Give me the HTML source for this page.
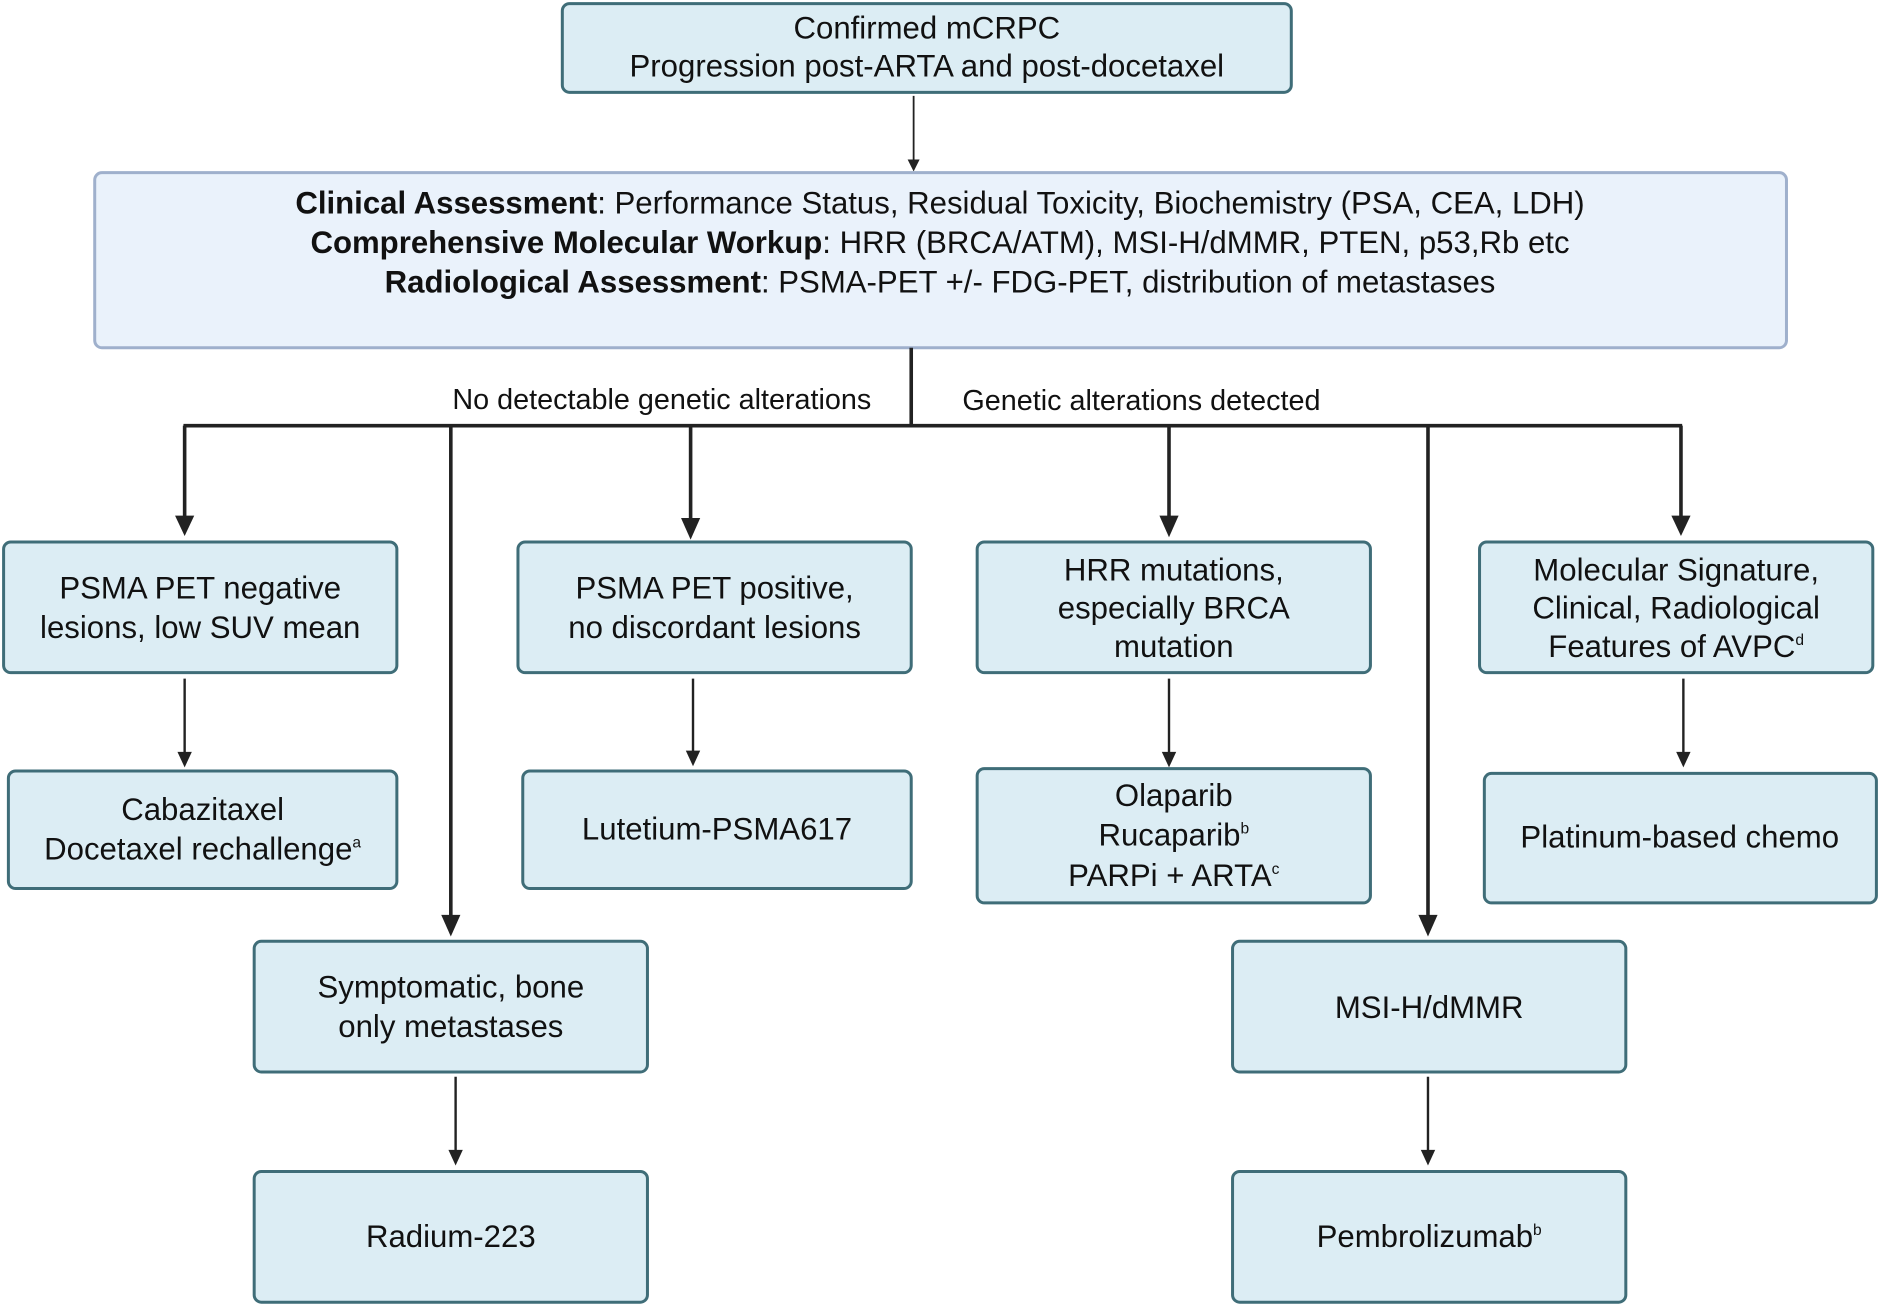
<!DOCTYPE html>
<html><head><meta charset="utf-8"><style>
html,body{margin:0;padding:0;background:#fff;}
svg{display:block;}
text{font-family:"Liberation Sans",sans-serif;fill:#111;text-anchor:middle;}
.n{font-size:26px;}
.b{font-weight:bold;}
.box{fill:#dcedf4;stroke:#3f6d78;stroke-width:2.5;}
.ln{stroke:#222;stroke-width:3;fill:none;}
.th{stroke:#222;stroke-width:2;fill:none;}
.ah{fill:#222;}
</style></head><body>
<svg width="1880" height="1307" viewBox="0 0 1568 1090" preserveAspectRatio="none" xmlns="http://www.w3.org/2000/svg">

<rect class="box" x="469" y="3" width="608" height="74" rx="6"/>
<text class="n" x="773" y="32">Confirmed mCRPC</text>
<text class="n" x="773" y="64">Progression post-ARTA and post-docetaxel</text>

<line x1="762" y1="80" x2="762" y2="134" stroke="#222" stroke-width="1.5"/>
<path class="ah" d="M757,133 L767,133 L762,143 Z"/>

<rect x="79" y="144" width="1411" height="146" rx="6" fill="#eaf2fb" stroke="#9fb0cc" stroke-width="2.5"/>
<text class="n" x="784" y="178"><tspan class="b">Clinical Assessment</tspan>: Performance Status, Residual Toxicity, Biochemistry (PSA, CEA, LDH)</text>
<text class="n" x="784" y="211"><tspan class="b">Comprehensive Molecular Workup</tspan>: HRR (BRCA/ATM), MSI-H/dMMR, PTEN, p53,Rb etc</text>
<text class="n" x="784" y="244"><tspan class="b">Radiological Assessment</tspan>: PSMA-PET +/- FDG-PET, distribution of metastases</text>

<line class="ln" x1="760" y1="290" x2="760" y2="355"/>
<text class="n" x="552" y="341" style="font-size:24px">No detectable genetic alterations</text>
<text class="n" x="952" y="342" style="font-size:24px">Genetic alterations detected</text>
<line class="ln" x1="153" y1="355" x2="1403" y2="355"/>
<line class="ln" x1="154" y1="355" x2="154" y2="432"/><path class="ah" d="M146,430 L162,430 L154,447 Z"/>
<line class="ln" x1="376" y1="355" x2="376" y2="765"/><path class="ah" d="M368,763 L384,763 L376,781 Z"/>
<line class="ln" x1="576" y1="355" x2="576" y2="434"/><path class="ah" d="M568,432 L584,432 L576,450 Z"/>
<line class="ln" x1="975" y1="355" x2="975" y2="432"/><path class="ah" d="M967,430 L983,430 L975,448 Z"/>
<line class="ln" x1="1191" y1="355" x2="1191" y2="765"/><path class="ah" d="M1183,763 L1199,763 L1191,781 Z"/>
<line class="ln" x1="1402" y1="355" x2="1402" y2="432"/><path class="ah" d="M1394,430 L1410,430 L1402,447 Z"/>

<rect class="box" x="3" y="452" width="328" height="109" rx="6"/>
<text class="n" x="167" y="499">PSMA PET negative</text>
<text class="n" x="167" y="532">lesions, low SUV mean</text>
<rect class="box" x="432" y="452" width="328" height="109" rx="6"/>
<text class="n" x="596" y="499">PSMA PET positive,</text>
<text class="n" x="596" y="532">no discordant lesions</text>
<rect class="box" x="815" y="452" width="328" height="109" rx="6"/>
<text class="n" x="979" y="484">HRR mutations,</text>
<text class="n" x="979" y="516">especially BRCA</text>
<text class="n" x="979" y="548">mutation</text>
<rect class="box" x="1234" y="452" width="328" height="109" rx="6"/>
<text class="n" x="1398" y="484">Molecular Signature,</text>
<text class="n" x="1398" y="516">Clinical, Radiological</text>
<text class="n" x="1398" y="548">Features of AVPC<tspan dy="-10" style="font-size:13px">d</tspan></text>

<line class="th" x1="154" y1="566" x2="154" y2="628"/><path class="ah" d="M148,627 L160,627 L154,640 Z"/>
<line class="th" x1="578" y1="566" x2="578" y2="627"/><path class="ah" d="M572,626 L584,626 L578,639 Z"/>
<line class="th" x1="975" y1="566" x2="975" y2="628"/><path class="ah" d="M969,627 L981,627 L975,640 Z"/>
<line class="th" x1="1404" y1="566" x2="1404" y2="628"/><path class="ah" d="M1398,627 L1410,627 L1404,640 Z"/>

<rect class="box" x="7" y="643" width="324" height="98" rx="6"/>
<text class="n" x="169" y="684">Cabazitaxel</text>
<text class="n" x="169" y="717">Docetaxel rechallenge<tspan dy="-10" style="font-size:13px">a</tspan></text>
<rect class="box" x="436" y="643" width="324" height="98" rx="6"/>
<text class="n" x="598" y="700">Lutetium-PSMA617</text>
<rect class="box" x="815" y="641" width="328" height="112" rx="6"/>
<text class="n" x="979" y="672">Olaparib</text>
<text class="n" x="979" y="705">Rucaparib<tspan dy="-10" style="font-size:13px">b</tspan></text>
<text class="n" x="979" y="739">PARPi + ARTA<tspan dy="-10" style="font-size:13px">c</tspan></text>
<rect class="box" x="1238" y="645" width="327" height="108" rx="6"/>
<text class="n" x="1401" y="707">Platinum-based chemo</text>

<rect class="box" x="212" y="785" width="328" height="109" rx="6"/>
<text class="n" x="376" y="832">Symptomatic, bone</text>
<text class="n" x="376" y="865">only metastases</text>
<rect class="box" x="1028" y="785" width="328" height="109" rx="6"/>
<text class="n" x="1192" y="849">MSI-H/dMMR</text>

<line class="th" x1="380" y1="898" x2="380" y2="960"/><path class="ah" d="M374,959 L386,959 L380,972 Z"/>
<line class="th" x1="1191" y1="898" x2="1191" y2="960"/><path class="ah" d="M1185,959 L1197,959 L1191,972 Z"/>

<rect class="box" x="212" y="977" width="328" height="109" rx="6"/>
<text class="n" x="376" y="1040">Radium-223</text>
<rect class="box" x="1028" y="977" width="328" height="109" rx="6"/>
<text class="n" x="1192" y="1040">Pembrolizumab<tspan dy="-10" style="font-size:13px">b</tspan></text>
</svg>
</body></html>
